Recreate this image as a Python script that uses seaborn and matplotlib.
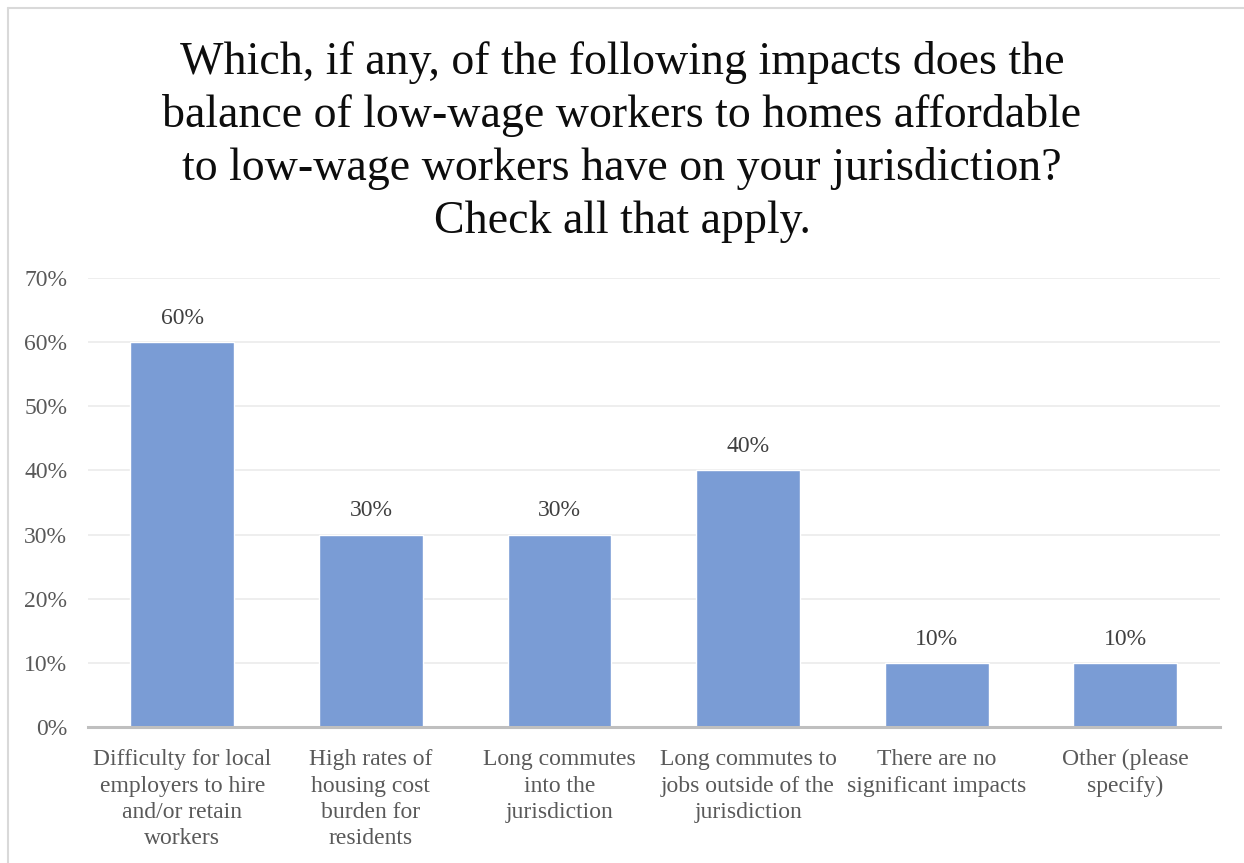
import matplotlib
matplotlib.use("Agg")
import matplotlib.pyplot as plt
from matplotlib.lines import Line2D
import seaborn as sns
import pandas as pd

categories = [
    "Difficulty for local\nemployers to hire\nand/or retain\nworkers",
    "High rates of\nhousing cost\nburden for\nresidents",
    "Long commutes\ninto the\njurisdiction",
    "Long commutes to\njobs outside of the\njurisdiction",
    "There are no\nsignificant impacts",
    "Other (please\nspecify)",
]
shares = [0.60, 0.30, 0.30, 0.40, 0.10, 0.10]
y_ticks = [0.0, 0.1, 0.2, 0.3, 0.4, 0.5, 0.6, 0.7]
title = ("Which, if any, of the following impacts does the\n"
         "balance of low-wage workers to homes affordable\n"
         "to low-wage workers have on your jurisdiction?\n"
         "Check all that apply.")

sns.set_theme(style="white")
plt.rcParams["font.family"] = ["Liberation Serif", "DejaVu Serif"]

W, H = 1244, 863
fig = plt.figure(figsize=(W / 100, H / 100), dpi=100)
fig.patch.set_facecolor("white")

left, right, bottom, top = 88, 1219.6, 727, 278
ax = fig.add_axes([left / W, 1 - bottom / H, (right - left) / W, (bottom - top) / H])

df = pd.DataFrame({"category": categories, "share": shares})
sns.barplot(data=df, x="category", y="share", color="#7A9CD5", saturation=1,
            width=0.55, ax=ax, zorder=3)

ax.set_ylim(0, 0.7)
ax.set_yticks(y_ticks)
ax.set_yticklabels([f"{int(round(t * 100))}%" for t in y_ticks])
ax.yaxis.grid(True, color="#EBEBEB", linewidth=1.2, zorder=0)
ax.set_axisbelow(True)
for s in ["top", "right", "left"]:
    ax.spines[s].set_visible(False)
ax.spines["bottom"].set_color("#BFBFBF")
ax.spines["bottom"].set_linewidth(2.2)
ax.spines["bottom"].set_zorder(4)
ax.tick_params(axis="both", length=0, labelsize=17, labelcolor="#595959")
ax.tick_params(axis="y", pad=15)
ax.tick_params(axis="x", pad=16)
for lab in ax.get_xticklabels():
    lab.set_linespacing(1.33)
ax.set_xlabel("")
ax.set_ylabel("")

for i, v in enumerate(shares):
    ax.annotate(f"{int(round(v * 100))}%", (i, v), xytext=(0, 17),
                textcoords="offset points", ha="center", va="center",
                fontsize=17, color="#404040")

fig.text(0.5, 1 - 142 / H, title, ha="center", va="center", fontsize=33,
         color="#0D0D0D", linespacing=1.30)

# chart frame
fig.add_artist(Line2D([8 / W, 8 / W], [0, 1 - 8 / H], transform=fig.transFigure,
                      color="#D9D9D9", linewidth=1.5))
fig.add_artist(Line2D([8 / W, 1], [1 - 8 / H, 1 - 8 / H], transform=fig.transFigure,
                      color="#D9D9D9", linewidth=1.5))

fig.savefig("out.png", dpi=100)
